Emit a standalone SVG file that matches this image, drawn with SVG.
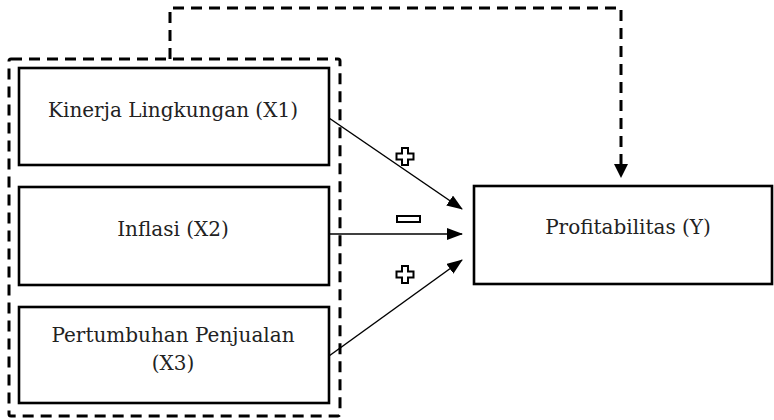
<svg xmlns="http://www.w3.org/2000/svg" width="774" height="420" viewBox="0 0 774 420">
<style>
.box{fill:#fff;stroke:#000;stroke-width:2.6}
.dash{fill:none;stroke:#000;stroke-width:3;stroke-dasharray:11 7}
.lbl{font-family:"DejaVu Serif",serif;font-size:20px;fill:#222;text-anchor:middle}
.conn{stroke:#000;stroke-width:1.5;fill:none}
.sign{fill:#fff;stroke:#000;stroke-width:2}
</style>
<defs>
<marker id="ah" markerWidth="16" markerHeight="12" refX="15" refY="6" orient="auto" markerUnits="userSpaceOnUse">
<path d="M0,0 L16,6 L0,12 Z" fill="#000"/>
</marker>
</defs>
<rect width="774" height="420" fill="#fff"/>
<g id="group">
<rect class="dash" x="9" y="59" width="331" height="357" rx="2"/>
</g>
<g id="x1">
<rect class="box" x="19" y="68" width="310" height="97"/>
<text class="lbl" x="173" y="117">Kinerja Lingkungan (X1)</text>
</g>
<g id="x2">
<rect class="box" x="19" y="187" width="310" height="98"/>
<text class="lbl" x="173" y="236">Inflasi (X2)</text>
</g>
<g id="x3">
<rect class="box" x="19" y="307" width="310" height="96"/>
<text class="lbl" x="173" y="342">Pertumbuhan Penjualan</text>
<text class="lbl" x="173" y="370">(X3)</text>
</g>
<g id="y">
<rect class="box" x="474" y="186" width="298" height="98"/>
<text class="lbl" x="628" y="234">Profitabilitas (Y)</text>
</g>
<g id="connectors">
<path class="dash" d="M170,59 V8 H621 V166"/>
<path d="M614,164 L628,164 L621,178 Z" fill="#000"/>
<line class="conn" x1="329" y1="118" x2="462" y2="209" marker-end="url(#ah)"/>
<line class="conn" x1="329" y1="234" x2="462" y2="234" marker-end="url(#ah)"/>
<line class="conn" x1="329" y1="356" x2="462" y2="260" marker-end="url(#ah)"/>
</g>
<g id="signs">
<path class="sign" d="M402,148 h6 v5.5 h5.5 v6 h-5.5 v5.5 h-6 v-5.5 h-5.5 v-6 h5.5 Z"/>
<rect class="sign" x="397" y="216" width="23" height="6"/>
<path class="sign" d="M402,266 h6 v5.5 h5.5 v6 h-5.5 v5.5 h-6 v-5.5 h-5.5 v-6 h5.5 Z"/>
</g>
</svg>
